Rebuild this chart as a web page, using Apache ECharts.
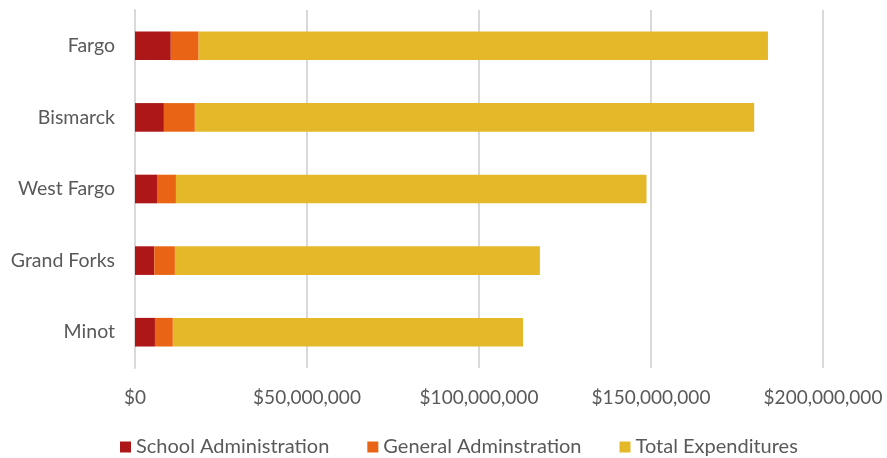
<!DOCTYPE html>
<html><head><meta charset="utf-8">
<script src="https://cdn.jsdelivr.net/npm/echarts@6/dist/echarts.min.js"></script>
<style>html,body{margin:0;padding:0;background:#fff}#c{width:887px;height:458px}</style>
</head><body><div id="c"></div>
<script>
const categories = ["Fargo", "Bismarck", "West Fargo", "Grand Forks", "Minot"];
const schoolAdmin = [10400000, 8400000, 6400000, 5600000, 5800000];
const generalAdmin = [8100000, 9000000, 5500000, 6000000, 5200000];
const totalExpend = [165500000, 162600000, 136800000, 106100000, 101800000];
const seriesNames = ["School Administration", "General Adminstration", "Total Expenditures"];
const colors = ["#AE1717", "#E96515", "#E5B82A"];

const font = "Lato, 'Open Sans', sans-serif";
const chart = echarts.init(document.getElementById('c'), null, {renderer: 'canvas'});
const dataSets = [schoolAdmin, generalAdmin, totalExpend];
chart.setOption({
  animation: false,
  color: colors,
  grid: {left: 135, right: 64, top: 10, bottom: 90},
  legend: {
    top: 432, left: 115, itemWidth: 11, itemHeight: 11, itemGap: 38,
    icon: 'rect',
    textStyle: {color: '#595959', fontSize: 20, fontFamily: font},
    data: seriesNames
  },
  xAxis: {
    type: 'value', min: 0, max: 200000000, interval: 50000000,
    axisLine: {show: false}, axisTick: {show: false},
    splitLine: {lineStyle: {color: '#D9D9D9', width: 2}},
    axisLabel: {
      color: '#595959', fontSize: 19, fontFamily: font, margin: 20,
      formatter: v => '$' + v.toLocaleString('en-US')
    }
  },
  yAxis: {
    type: 'category', data: categories, inverse: true,
    axisLine: {lineStyle: {color: '#D9D9D9', width: 2}},
    axisTick: {show: false},
    axisLabel: {color: '#595959', fontSize: 19.5, fontFamily: font, margin: 20}
  },
  series: seriesNames.map((n, i) => ({
    name: n, type: 'bar', stack: 'total', barWidth: '40%',
    data: dataSets[i],
    itemStyle: {color: colors[i]}
  }))
});
</script></body></html>
